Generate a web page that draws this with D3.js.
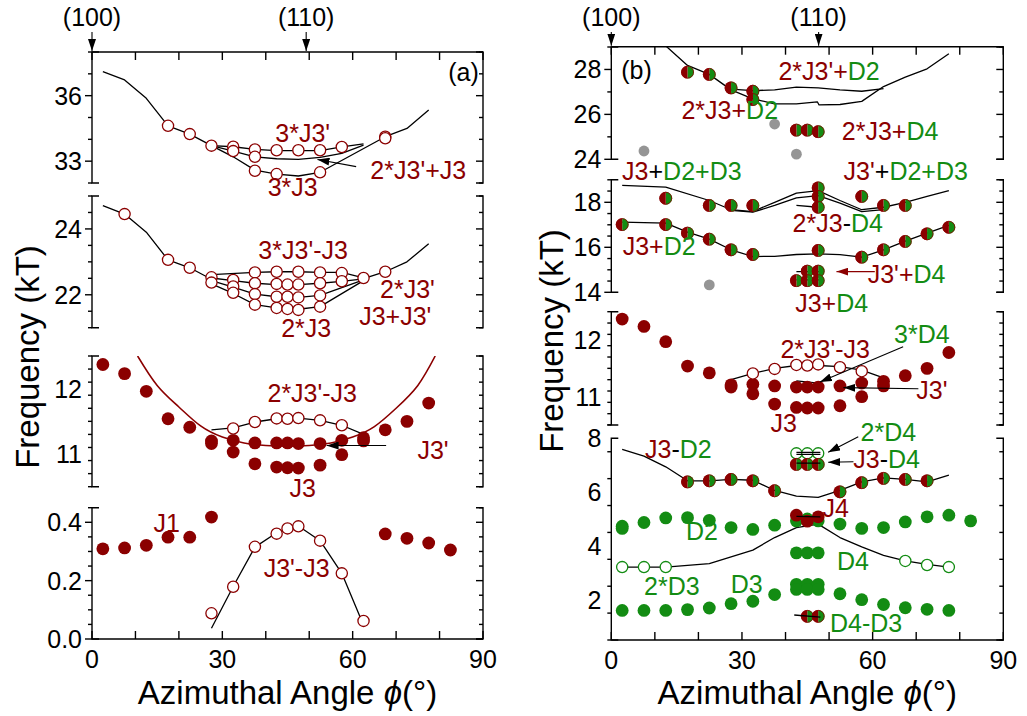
<!DOCTYPE html>
<meta charset="utf-8">
<body style="margin:0;background:#fff">
<script src="https://d3js.org/d3.v7.min.js"></script>
<script>

// ---------- data : panel (a) ----------
var xTickLabels = [0, 30, 60, 90];
var orientA = [[0, "(100)"], [49.3, "(110)"]];
var orientB = [[0, "(100)"], [47.6, "(110)"]];

var aTicks = [[33, 36], [22, 24], [11, 12], [0, 0.2, 0.4]];
var bTicks = [[24, 26, 28], [14, 16, 18], [11, 12], [2, 4, 6, 8]];

// (a) top block : 3*J3', 2*J3'+J3, 3*J3
var a1Open = [[17.5,34.62],[22.5,34.24],[27.5,33.71],[32.5,33.66],[32.5,33.46],[37.5,33.54],[37.5,33.20],[37.5,32.56],
  [42.5,33.50],[42.5,32.41],[47.5,33.50],[52.5,33.50],[52.5,32.49],[57.5,33.65],[67.5,34.12],[67.5,34.05]];
var a1Line3J3p = [[27.5,33.71],[32.5,33.66],[37.5,33.54],[42.5,33.48],[47.5,33.48],[52.5,33.48],[57.5,33.65],[62.5,33.79]];
var a1Line2J3pJ3 = [[27.5,33.71],[32.5,33.46],[37.5,33.20],[42.5,33.11],[47.5,33.08],[52.5,33.17],[57.5,33.36],[62.5,33.73]];
var a1Line3J3 = [[2.5,37.10],[7.5,36.72],[12.5,35.88],[17.5,34.62],[22.5,34.24],[27.5,33.71],[32.5,33.20],[37.5,32.59],
  [42.5,32.41],[47.5,32.32],[52.5,32.49],[67.5,34.12],[72.5,34.50],[77.5,35.34]];

// (a) second block : 3*J3'-J3 ... 2*J3
var a2Open = [[7.5,24.45],[17.5,23.06],[22.5,22.82],[27.5,22.53],[27.5,22.37],[32.5,22.45],[32.5,22.25],[32.5,22.06],
  [37.5,22.68],[37.5,22.35],[37.5,22.02],[37.5,21.70],[42.5,22.70],[42.5,22.33],[42.5,21.94],[42.5,21.60],
  [45,22.31],[45,21.94],[45,21.57],[47.5,22.70],[47.5,22.31],[47.5,21.92],[47.5,21.54],
  [52.5,22.68],[52.5,22.35],[52.5,21.98],[52.5,21.64],[57.5,22.66],[57.5,22.41],[62.5,22.51],[67.5,22.70]];
var a2MainL = [[2.5,24.71],[7.5,24.45],[12.5,23.90],[17.5,23.06],[22.5,22.82],[27.5,22.47]];
var a2MainR = [[62.5,22.49],[67.5,22.70],[72.5,23.00],[77.5,23.55]];
var a2L1 = [[27.5,22.61],[37.5,22.68],[42.5,22.70],[47.5,22.70],[52.5,22.68],[57.5,22.68],[62.5,22.51]];
var a2L2 = [[27.5,22.51],[32.5,22.43],[37.5,22.35],[42.5,22.31],[47.5,22.31],[52.5,22.35],[57.5,22.41],[62.5,22.48]];
var a2L3 = [[27.5,22.43],[32.5,22.23],[37.5,22.02],[42.5,21.94],[47.5,21.92],[52.5,21.98],[62.5,22.45]];
var a2L4 = [[27.5,22.33],[32.5,22.04],[37.5,21.70],[42.5,21.60],[47.5,21.56],[52.5,21.64],[62.5,22.43]];

// (a) third block : J3', J3, 2*J3'-J3
var a3Fill = [[2.5,12.37],[7.5,12.23],[12.5,11.96],[17.5,11.54],[22.5,11.41],[27.5,11.20],[27.5,11.16],[32.5,11.21],[32.5,11.03],
  [37.5,11.17],[37.5,10.85],[42.5,11.17],[42.5,10.80],[45,11.17],[45,10.79],[47.5,11.16],[47.5,10.785],[52.5,11.16],[52.5,10.83],
  [57.5,11.21],[57.5,10.99],[62.5,11.25],[62.5,11.20],[67.5,11.37],[72.5,11.50],[77.5,11.78]];
var a3Open = [[32.5,11.39],[37.5,11.49],[42.5,11.545],[45,11.54],[47.5,11.55],[52.5,11.515],[57.5,11.44]];
var a3Line = [[27.5,11.37],[32.5,11.40],[37.5,11.49],[42.5,11.54],[47.5,11.55],[52.5,11.515],[57.5,11.44],[62.5,11.30]];
var a3Fit = [[10.5,12.5],[15,12.05],[20,11.72],[25,11.43],[30,11.26],[35,11.17],[40,11.13],[45,11.12],[50,11.13],
  [55,11.17],[60,11.26],[65,11.42],[70,11.70],[75,12.05],[79,12.5]];

// (a) bottom block : J1, J3'-J3
var a4Fill = [[2.5,0.309],[7.5,0.312],[12.5,0.321],[17.5,0.349],[22.5,0.349],[27.5,0.418],[67.5,0.36],[72.5,0.345],[77.5,0.329],[82.5,0.305]];
var a4Open = [[27.5,0.088],[32.5,0.179],[37.5,0.316],[42.5,0.361],[45,0.379],[47.5,0.386],[52.5,0.337],[57.5,0.225],[62.5,0.062]];
var a4Line = [[27.5,0.037],[32.5,0.18],[37.5,0.315],[42.5,0.364],[47.5,0.387],[52.5,0.337],[57.5,0.225],[62,0.065]];

// ---------- data : panel (b) ----------
var b1Half = [[17.5,27.88],[22.5,27.78],[27.5,27.18],[32.5,27.03],[32.5,26.66],[42.5,25.30],[45,25.30],[47.5,25.23]];
var b1Gray = [[7.5,24.37],[37.5,25.57],[42.5,24.23]];
var b1Line2J3pD2 = [[27.5,27.12],[32.5,27.06],[37.5,27.09],[42.5,27.21],[47.5,27.18],[52.5,27.09],[57.5,27.03],[62.5,27.15]];
var b1Line2J3D2 = [[12.5,29.05],[17.5,28.18],[22.5,27.78],[27.5,27.09],[32.5,26.69],[37.5,26.47],[42.5,26.47],[47.3,26.56],
  [47.7,26.42],[52.5,26.44],[57.5,26.58],[62.5,27.24],[67.5,27.66],[72.5,28.03],[77.5,28.70]];

var b2Half = [[2.5,17.01],[12.5,18.18],[12.5,17.01],[17.5,16.63],[22.5,17.86],[22.5,16.36],[27.5,17.86],[27.5,15.89],
  [32.5,17.86],[32.5,15.68],[47.5,18.64],[47.5,18.26],[47.5,17.78],[47.5,15.86],[57.5,18.26],[57.5,15.56],
  [62.5,17.86],[62.5,15.89],[67.5,17.86],[67.5,16.26],[72.5,16.60],[77.5,16.89],
  [42.5,14.52],[45,14.94],[45,14.52],[47.5,14.94],[47.5,14.52]];
var b2Gray = [[22.5,14.33]];
var b2LineJ3D2D3 = [[2.5,18.75],[12.5,18.67],[22.5,18.08],[27.5,17.67],[32.5,17.59],[37.5,18.00],[42.5,18.41],[47.5,18.52],
  [52.5,18.08],[57.5,17.67],[62.5,17.78],[67.5,18.00],[72.5,18.26],[77.5,18.52]];
var b2LineJ3pD2D3 = [[27.5,17.64],[32.5,17.56],[37.5,17.86],[42.5,18.20],[47.5,18.30],[52.5,17.96],[57.5,17.59],[62.5,17.67]];
var b2Line2J3D4 = [[42.5,17.86],[47.5,17.78]];
var b2LineJ3D2 = [[2.5,17.12],[12.5,17.07],[17.5,16.67],[22.5,16.36],[27.5,15.89],[32.5,15.59],[37.5,15.60],[42.5,15.68],
  [47.5,15.71],[52.5,15.67],[57.5,15.56],[62.5,15.89],[67.5,16.27],[72.5,16.63],[77.5,16.97]];
var b2LineJ3pD4 = [[42.5,14.92],[48,14.92]];
var b2LineJ3D4 = [[42.5,14.55],[48,14.55]];

var b3Fill = [[2.5,12.37],[7.5,12.24],[12.5,11.97],[17.5,11.54],[22.5,11.42],[27.5,11.21],[27.5,11.17],[32.5,11.22],[32.5,11.05],
  [37.5,11.19],[37.5,10.87],[42.5,11.17],[42.5,10.81],[45,11.17],[45,10.80],[47.5,11.17],[47.5,10.80],[52.5,11.19],[52.5,10.84],
  [57.5,11.24],[57.5,11.00],[62.5,11.27],[62.5,11.19],[67.5,11.37],[72.5,11.50],[77.5,11.78]];
var b3Open = [[32.5,11.41],[37.5,11.49],[42.5,11.56],[45,11.55],[47.5,11.57],[52.5,11.52],[57.5,11.45]];
var b3Line = [[27.5,11.30],[32.5,11.41],[37.5,11.50],[42.5,11.55],[47.5,11.55],[52.5,11.53],[57.5,11.47],[62.5,11.33]];
var b3Line3D4 = [[42.5,11.28],[47.5,11.24]];

var b4HalfJ3D2 = [[17.5,6.38],[22.5,6.42],[27.5,6.47],[32.5,6.42],[37.5,6.05],[52.5,6.01],[57.5,6.35],[62.5,6.51],[67.5,6.47],[72.5,6.42]];
var b4HalfJ3D4 = [[42.5,7.03],[45,7.03],[47.5,7.03]];
var b4HalfD4D3 = [[45,1.38],[47.5,1.38]];
var b4Open2D4 = [[42.5,7.44],[45,7.44],[47.5,7.44]];
var b4Open2D3 = [[2.5,3.21],[7.5,3.21],[12.5,3.21],[67.5,3.44],[72.5,3.29],[77.5,3.21]];
var b4D2 = [[2.5,4.73],[2.5,4.65],[7.5,4.87],[12.5,5.04],[17.5,5.05],[22.5,4.95],[27.5,4.68],[32.5,4.61],[37.5,4.77],
  [42.5,4.93],[45,5.00],[47.5,4.93],[52.5,4.81],[57.5,4.65],[62.5,4.68],[67.5,4.89],[72.5,5.08],[77.5,5.14],[82.5,4.93]];
var b4D3 = [[2.5,1.60],[7.5,1.60],[12.5,1.60],[17.5,1.63],[22.5,1.69],[27.5,1.85],[32.5,1.94],[37.5,2.19],
  [52.5,2.22],[57.5,2.00],[62.5,1.82],[67.5,1.70],[72.5,1.64],[77.5,1.60]];
var b4D4 = [[42.5,3.74],[45,3.74],[47.5,3.74],[42.5,2.57],[45,2.57],[47.5,2.57],[42.5,2.38],[45,2.38],[47.5,2.38]];
var b4J4 = [[42.5,5.14],[45,4.92],[47.5,5.08]];
var b4LineJ3D2 = [[2.5,7.59],[7.5,7.34],[12.5,6.94],[17.5,6.42],[22.5,6.42],[27.5,6.47],[32.5,6.44],[37.5,6.06],
  [42.5,5.85],[47.5,5.80],[52.5,6.06],[57.5,6.38],[62.5,6.53],[67.5,6.47],[72.5,6.38],[77.5,6.63]];
var b4LineD4 = [[2.5,3.21],[12.5,3.21],[22.5,3.34],[32.5,3.84],[37.5,4.31],[42.5,4.68],[47.5,4.81],[52.5,4.31],
  [57.5,3.96],[62.5,3.65],[67.5,3.44],[72.5,3.31],[77.5,3.21]];
var b4Line2D4a = [[42.5,7.40],[48,7.40]];
var b4Line2D4b = [[42.5,7.48],[48,7.48]];
var b4LineJ3D4 = [[42.5,7.08],[48,7.08]];
var b4LineJ4 = [[42.5,5.10],[48,5.08]];
var b4LineD4D3 = [[42,1.43],[48,1.35]];

// ---------- annotations (block, angle, frequency, text parts) ----------
var labelsA = [
  [0, 48.5, 34.30, [["3*J3'", "r"]]],
  [0, 75.1, 32.59, [["2*J3'+J3", "r"]]],
  [0, 46.2, 31.83, [["3*J3", "r"]]],
  [0, 85.5, 37.10, [["(a)", "k"]]],
  [1, 48.6, 23.36, [["3*J3'-J3", "r"]]],
  [1, 72.6, 22.18, [["2*J3'", "r"]]],
  [1, 69.8, 21.37, [["J3+J3'", "r"]]],
  [1, 49.3, 20.98, [["2*J3", "r"]]],
  [2, 50.7, 11.93, [["2*J3'-J3", "r"]]],
  [2, 78.5, 11.06, [["J3'", "r"]]],
  [2, 48.5, 10.48, [["J3", "r"]]],
  [3, 17.2, 0.396, [["J1", "r"]]],
  [3, 47.1, 0.242, [["J3'-J3", "r"]]]
];
var labelsB = [
  [0, 5.8, 27.97, [["(b)", "k"]]],
  [0, 50.0, 27.93, [["2*J3'+", "r"], ["D2", "g"]]],
  [0, 27.2, 26.20, [["2*J3+", "r"], ["D2", "g"]]],
  [0, 64.0, 25.28, [["2*J3+", "r"], ["D4", "g"]]],
  [1, 16.2, 19.39, [["J3", "r"], ["+", "k"], ["D2+D3", "g"]]],
  [1, 67.6, 19.39, [["J3'", "r"], ["+", "k"], ["D2+D3", "g"]]],
  [1, 52.0, 17.08, [["2*J3", "r"], ["-", "k"], ["D4", "g"]]],
  [1, 11.0, 16.06, [["J3+", "r"], ["D2", "g"]]],
  [1, 67.8, 14.81, [["J3'+", "r"], ["D4", "g"]]],
  [1, 50.6, 13.52, [["J3+", "r"], ["D4", "g"]]],
  [2, 49.1, 11.84, [["2*J3'-J3", "r"]]],
  [2, 71.3, 12.11, [["3*D4", "g"]]],
  [2, 73.6, 11.12, [["J3'", "r"]]],
  [2, 39.6, 10.54, [["J3", "r"]]],
  [3, 15.4, 7.60, [["J3", "r"], ["-", "k"], ["D2", "g"]]],
  [3, 63.6, 8.23, [["2*D4", "g"]]],
  [3, 63.2, 7.23, [["J3", "r"], ["-", "k"], ["D4", "g"]]],
  [3, 51.5, 5.40, [["J4", "r"]]],
  [3, 20.8, 4.55, [["D2", "g"]]],
  [3, 55.5, 3.43, [["D4", "g"]]],
  [3, 13.9, 2.50, [["2*D3", "g"]]],
  [3, 31.1, 2.57, [["D3", "g"]]],
  [3, 58.5, 1.15, [["D4-D3", "g"]]]
];
// arrows: block, from (angle, freq), to (angle, freq), colour key
var arrowsA = [[0, 60.8, 32.75, 51.9, 33.08, "k"], [2, 67.7, 11.13, 54.0, 11.13, "k"]];
var arrowsB = [[1, 60.5, 14.92, 51.7, 14.92, "r"], [2, 67.0, 11.88, 47.9, 11.26, "k"], [2, 70.5, 11.14, 53.3, 11.16, "k"],
  [3, 56.7, 8.06, 49.8, 7.48, "k"], [3, 55.6, 7.13, 49.8, 7.11, "k"]];

// ---------- drawing ----------
var RED = "#8b0000", GREEN = "#138c13", GRAY = "#959595";
var col = {r: RED, g: GREEN, k: "#000"};
var FONT = "'Liberation Sans', Arial, Helvetica, sans-serif";
var FS = 25;      // tick and annotation text
var FT = 33;      // axis titles

var svg = d3.select("body").append("svg")
    .attr("width", 1027)
    .attr("height", 716)
    .style("display", "block")
    .style("font-family", FONT);

var defs = svg.append("defs");
["k", "r"].forEach(function(k) {
  defs.append("marker").attr("id", "ah" + k)
    .attr("viewBox", "0 0 12 8").attr("refX", 12).attr("refY", 4)
    .attr("markerWidth", 12).attr("markerHeight", 8)
    .attr("markerUnits", "userSpaceOnUse").attr("orient", "auto")
    .append("path").attr("d", "M0,0L12,4L0,8Z").attr("fill", col[k]);
});

var panelA = {
  id: "a",
  x: d3.scaleLinear().domain([0, 90]).range([92, 483]),
  top: 52, bottom: 639,
  orient: orientA,
  subs: [
    {y: d3.scaleLinear().domain([32, 38]).range([183, 52]), major: aTicks[0], step: 1, fmt: d3.format("d")},
    {y: d3.scaleLinear().domain([21, 25]).range([327.7, 196]), major: aTicks[1], step: 0.5, fmt: d3.format("d")},
    {y: d3.scaleLinear().domain([10.5, 12.5]).range([486.7, 356]), major: aTicks[2], step: 0.2, fmt: d3.format("d")},
    {y: d3.scaleLinear().domain([0, 0.45]).range([639, 507.7]), major: aTicks[3], step: 0.05, fmt: d3.format(".1f")}
  ]
};
var panelB = {
  id: "b",
  x: d3.scaleLinear().domain([0, 90]).range([611.3, 1003.3]),
  top: 46.7, bottom: 640,
  orient: orientB,
  subs: [
    {y: d3.scaleLinear().domain([24, 29]).range([159.3, 47]), major: bTicks[0], step: 1, fmt: d3.format("d")},
    {y: d3.scaleLinear().domain([14, 19]).range([292.3, 179.8]), major: bTicks[1], step: 0.5, fmt: d3.format("d")},
    {y: d3.scaleLinear().domain([10.5, 12.5]).range([425, 311.7]), major: bTicks[2], step: 0.2, fmt: d3.format("d")},
    {y: d3.scaleLinear().domain([0.5, 8]).range([640, 438.3]), major: bTicks[3], step: 1, fmt: d3.format("d")}
  ]
};

function drawFrame(p) {
  var x = p.x, x0 = x(0), x1 = x(90);
  var g = svg.append("g").attr("stroke", "#000").attr("stroke-width", 1.4).attr("fill", "none");
  // top axis
  g.append("line").attr("x1", x0).attr("x2", x1).attr("y1", p.top).attr("y2", p.top);
  d3.range(0, 91, 10).forEach(function(t) {
    g.append("line").attr("x1", x(t)).attr("x2", x(t)).attr("y1", p.top).attr("y2", p.top + 8);
  });
  // bottom axis
  g.append("line").attr("x1", x0).attr("x2", x1).attr("y1", p.bottom).attr("y2", p.bottom);
  d3.range(0, 91, 10).forEach(function(t) {
    g.append("line").attr("x1", x(t)).attr("x2", x(t)).attr("y1", p.bottom).attr("y2", p.bottom - 8);
  });
  svg.append("g").selectAll("text").data(xTickLabels).join("text")
    .attr("x", function(d) { return x(d); }).attr("y", p.bottom + 29)
    .attr("text-anchor", "middle").attr("font-size", FS).text(function(d) { return d; });
  // orientation arrows
  p.orient.forEach(function(o) {
    g.append("line").attr("x1", x(o[0])).attr("x2", x(o[0])).attr("y1", 32).attr("y2", p.top - 1)
      .attr("stroke-width", 1.1).attr("marker-end", "url(#ahk)");
    svg.append("text").attr("x", x(o[0])).attr("y", 26).attr("text-anchor", "middle")
      .attr("font-size", FS).text(o[1]);
  });
  // blocks
  p.subs.forEach(function(s, i) {
    var y = s.y, ya = y.range()[0], yb = y.range()[1];
    g.append("path").attr("d", "M" + (x0 + 7) + "," + ya + "H" + x0 + "V" + yb + "H" + (x0 + 7));
    g.append("path").attr("d", "M" + (x1 - 7) + "," + ya + "H" + x1 + "V" + yb + "H" + (x1 - 7));
    var d0 = y.domain()[0], d1 = y.domain()[1];
    var n = Math.round((d1 - d0) / s.step);
    for (var k = 0; k <= n; k++) {
      var v = d0 + k * s.step;
      var isMajor = s.major.some(function(m) { return Math.abs(m - v) < 1e-6; });
      var len = isMajor ? 7 : 4;
      g.append("line").attr("x1", x0 - len).attr("x2", x0).attr("y1", y(v)).attr("y2", y(v));
      g.append("line").attr("x1", x1 - len).attr("x2", x1).attr("y1", y(v)).attr("y2", y(v));
    }
    svg.append("g").selectAll("text").data(s.major).join("text")
      .attr("x", x0 - 10).attr("y", function(d) { return y(d) + 9; })
      .attr("text-anchor", "end").attr("font-size", FS)
      .text(function(d) { return s.fmt(d); });
    defs.append("clipPath").attr("id", "clip" + p.id + i)
      .append("rect").attr("x", x0).attr("y", yb).attr("width", x1 - x0).attr("height", ya - yb);
  });
  // axis title
  var t = svg.append("text").attr("x", (x0 + x1) / 2).attr("y", 704)
    .attr("text-anchor", "middle").attr("font-size", FT);
  t.append("tspan").text("Azimuthal Angle ");
  t.append("tspan").attr("font-style", "italic").text("\u03d5");
  t.append("tspan").text("(\u00b0)");
}

function line(p, i, data, color, w, curve) {
  var s = p.subs[i];
  var gen = d3.line().x(function(d) { return p.x(d[0]); }).y(function(d) { return s.y(d[1]); })
    .curve(curve || d3.curveLinear);
  svg.append("path").datum(data)
    .attr("clip-path", "url(#clip" + p.id + i + ")")
    .attr("d", gen).attr("fill", "none")
    .attr("stroke", color || "#000").attr("stroke-width", w || 1.3)
    .attr("stroke-linejoin", "round");
}

var R = 6.4;
function pts(p, i, data, kind) {
  var s = p.subs[i];
  var g = svg.append("g");
  var sel = g.selectAll("g").data(data).join("g")
    .attr("transform", function(d) { return "translate(" + p.x(d[0]) + "," + s.y(d[1]) + ")"; });
  if (kind === "fill") sel.append("circle").attr("r", R).attr("fill", RED);
  if (kind === "gfill") sel.append("circle").attr("r", R).attr("fill", GREEN);
  if (kind === "gray") sel.append("circle").attr("r", 5.4).attr("fill", GRAY);
  if (kind === "open") sel.append("circle").attr("r", R - 0.8).attr("fill", "#fff").attr("stroke", RED).attr("stroke-width", 1.3);
  if (kind === "gopen") sel.append("circle").attr("r", R - 0.8).attr("fill", "#fff").attr("stroke", GREEN).attr("stroke-width", 1.3);
  if (kind === "half") {
    var aL = d3.arc().innerRadius(0).outerRadius(R).startAngle(Math.PI).endAngle(2 * Math.PI);
    var aR = d3.arc().innerRadius(0).outerRadius(R).startAngle(0).endAngle(Math.PI);
    sel.append("path").attr("d", aR()).attr("fill", GREEN);
    sel.append("path").attr("d", aL()).attr("fill", RED);
    sel.append("circle").attr("r", R - 0.4).attr("fill", "none").attr("stroke", RED).attr("stroke-width", 0.8);
  }
}

function labels(p, list) {
  list.forEach(function(l) {
    var s = p.subs[l[0]];
    var t = svg.append("text").attr("x", p.x(l[1])).attr("y", s.y(l[2]) + 9)
      .attr("text-anchor", "middle").attr("font-size", FS);
    l[3].forEach(function(part) {
      t.append("tspan").attr("fill", col[part[1]]).text(part[0]);
    });
  });
}

function arrows(p, list) {
  list.forEach(function(a) {
    var s = p.subs[a[0]];
    svg.append("line")
      .attr("x1", p.x(a[1])).attr("y1", s.y(a[2]))
      .attr("x2", p.x(a[3])).attr("y2", s.y(a[4]))
      .attr("stroke", col[a[5]]).attr("stroke-width", 1.1)
      .attr("marker-end", "url(#ah" + a[5] + ")");
  });
}

drawFrame(panelA);
drawFrame(panelB);

// y titles
svg.append("text").attr("transform", "translate(39,357) rotate(-90)")
  .attr("text-anchor", "middle").attr("font-size", FT).text("Frequency (kT)");
svg.append("text").attr("transform", "translate(563,341) rotate(-90)")
  .attr("text-anchor", "middle").attr("font-size", FT).text("Frequency (kT)");

// panel (a)
line(panelA, 0, a1Line3J3);
line(panelA, 0, a1Line3J3p);
line(panelA, 0, a1Line2J3pJ3);
pts(panelA, 0, a1Open, "open");

line(panelA, 1, a2MainL);
line(panelA, 1, a2MainR);
[a2L1, a2L2, a2L3, a2L4].forEach(function(l) { line(panelA, 1, l); });
pts(panelA, 1, a2Open, "open");

line(panelA, 2, a3Fit, RED, 1.6, d3.curveNatural);
line(panelA, 2, a3Line);
pts(panelA, 2, a3Fill, "fill");
pts(panelA, 2, a3Open, "open");

line(panelA, 3, a4Line);
pts(panelA, 3, a4Fill, "fill");
pts(panelA, 3, a4Open, "open");

labels(panelA, labelsA);
arrows(panelA, arrowsA);

// panel (b)
line(panelB, 0, b1Line2J3D2);
line(panelB, 0, b1Line2J3pD2);
pts(panelB, 0, b1Gray, "gray");
pts(panelB, 0, b1Half, "half");

[b2LineJ3D2D3, b2LineJ3pD2D3, b2Line2J3D4, b2LineJ3D2, b2LineJ3pD4, b2LineJ3D4].forEach(function(l) { line(panelB, 1, l); });
pts(panelB, 1, b2Gray, "gray");
pts(panelB, 1, b2Half, "half");

line(panelB, 2, b3Line);
line(panelB, 2, b3Line3D4);
pts(panelB, 2, b3Fill, "fill");
pts(panelB, 2, b3Open, "open");

line(panelB, 3, b4LineJ3D2);
line(panelB, 3, b4LineD4);
pts(panelB, 3, b4D2, "gfill");
pts(panelB, 3, b4D3, "gfill");
pts(panelB, 3, b4D4, "gfill");
pts(panelB, 3, b4J4, "fill");
pts(panelB, 3, b4Open2D3, "gopen");
pts(panelB, 3, b4Open2D4, "gopen");
pts(panelB, 3, b4HalfJ3D2, "half");
pts(panelB, 3, b4HalfJ3D4, "half");
pts(panelB, 3, b4HalfD4D3, "half");
[b4Line2D4a, b4Line2D4b, b4LineJ3D4, b4LineJ4, b4LineD4D3].forEach(function(l) { line(panelB, 3, l); });

labels(panelB, labelsB);
arrows(panelB, arrowsB);

</script>
</body>
